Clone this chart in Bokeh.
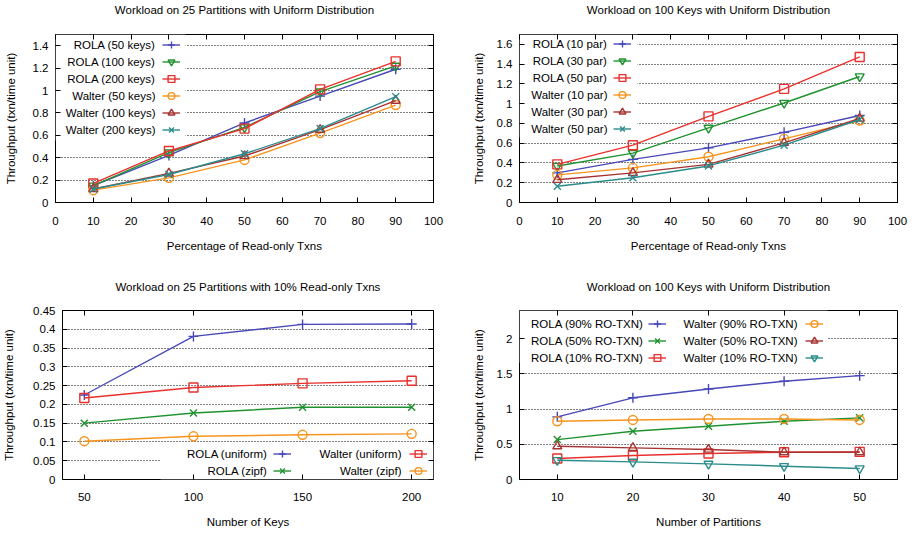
from bokeh.plotting import figure
from bokeh.layouts import column, row
from bokeh.models import (Range1d, FixedTicker, LinearAxis, Legend, LegendItem,
                          Label, BoxAnnotation)
from bokeh.embed import file_html
from bokeh.resources import INLINE

FONT = "Liberation Sans"
FS = "11.5px"

# ---------------- data ----------------
pct_x = [10, 30, 50, 70, 90]
tl_rola_50 = [0.15, 0.42, 0.71, 0.95, 1.19]
tl_rola_100 = [0.15, 0.445, 0.67, 0.99, 1.22]
tl_rola_200 = [0.17, 0.46, 0.66, 1.01, 1.26]
tl_walter_50 = [0.11, 0.22, 0.38, 0.62, 0.87]
tl_walter_100 = [0.12, 0.26, 0.415, 0.65, 0.91]
tl_walter_200 = [0.12, 0.25, 0.435, 0.66, 0.945]

tr_rola_10 = [0.30, 0.436, 0.553, 0.71, 0.88]
tr_rola_30 = [0.37, 0.50, 0.755, 1.007, 1.275]
tr_rola_50 = [0.386, 0.58, 0.872, 1.15, 1.473]
tr_walter_10 = [0.28, 0.35, 0.463, 0.644, 0.83]
tr_walter_30 = [0.23, 0.30, 0.386, 0.604, 0.85]
tr_walter_50 = [0.165, 0.25, 0.37, 0.58, 0.84]

keys_x = [50, 100, 150, 200]
bl_rola_uniform = [0.225, 0.381, 0.413, 0.414]
bl_walter_uniform = [0.217, 0.245, 0.256, 0.263]
bl_rola_zipf = [0.150, 0.177, 0.1925, 0.1925]
bl_walter_zipf = [0.102, 0.115, 0.119, 0.1215]

part_x = [10, 20, 30, 40, 50]
br_rola_90 = [0.89, 1.16, 1.286, 1.395, 1.475]
br_rola_50 = [0.567, 0.686, 0.757, 0.827, 0.875]
br_rola_10 = [0.298, 0.34, 0.369, 0.388, 0.392]
br_walter_90 = [0.827, 0.846, 0.86, 0.86, 0.846]
br_walter_50 = [0.473, 0.449, 0.426, 0.388, 0.388]
br_walter_10 = [0.274, 0.25, 0.222, 0.189, 0.156]

pct_ticks = [0, 10, 20, 30, 40, 50, 60, 70, 80, 90, 100]
pct_tick_labels = ["0", "10", "20", "30", "40", "50", "60", "70", "80", "90", "100"]
keys_ticks = [50, 100, 150, 200]
keys_tick_labels = ["50", "100", "150", "200"]
part_ticks = [10, 20, 30, 40, 50]
part_tick_labels = ["10", "20", "30", "40", "50"]
tl_yticks = [0, 0.2, 0.4, 0.6, 0.8, 1.0, 1.2, 1.4]
tl_ylabels = ["0", "0.2", "0.4", "0.6", "0.8", "1", "1.2", "1.4"]
tr_yticks = [0, 0.2, 0.4, 0.6, 0.8, 1.0, 1.2, 1.4, 1.6]
tr_ylabels = ["0", "0.2", "0.4", "0.6", "0.8", "1", "1.2", "1.4", "1.6"]
bl_yticks = [0, 0.05, 0.1, 0.15, 0.2, 0.25, 0.3, 0.35, 0.4, 0.45]
bl_ylabels = ["0", "0.05", "0.1", "0.15", "0.2", "0.25", "0.3", "0.35", "0.4", "0.45"]
br_yticks = [0, 0.5, 1.0, 1.5, 2.0]
br_ylabels = ["0", "0.5", "1", "1.5", "2"]

# ---------------- styles ----------------
BLUE = "#4848b8"
GREEN = "#1f922f"
RED = "#e8312d"
ORANGE = "#f7941d"
DARKRED = "#a83232"
TEAL = "#2b8c8c"
S_PLUS = (BLUE, "cross", 10)
S_DTRI_G = (GREEN, "inverted_triangle", 9)
S_SQ = (RED, "square", 9)
S_CIRC = (ORANGE, "circle", 9)
S_TRI = (DARKRED, "triangle", 9)
S_X_T = (TEAL, "x", 10)
S_X_G = (GREEN, "x", 10)
S_DTRI_T = (TEAL, "inverted_triangle", 9)

ROW = 17


def make_fig(title, xr, xticks, xlabels, yr, yticks, ylabels, xtitle,
             W, H, left, right, top, bottom, title_gap, ylab_standoff,
             xlab_standoff=14, xtitle_standoff=12):
    p = figure(width=W, height=H, x_range=Range1d(*xr), y_range=Range1d(*yr),
               output_backend="svg", toolbar_location=None,
               min_border_left=left, min_border_right=right,
               min_border_top=top, min_border_bottom=bottom)
    fh = H - top - bottom
    p.outline_line_color = "black"
    p.outline_line_width = 1
    p.outline_line_alpha = 1
    p.xgrid.visible = False
    p.ygrid.grid_line_color = "black"
    p.ygrid.grid_line_dash = "1 2"
    p.ygrid.grid_line_width = 1
    for ax in (p.xaxis[0], p.yaxis[0]):
        ax.axis_line_color = None
        ax.major_tick_in = 5
        ax.major_tick_out = 0
        ax.major_tick_line_color = "black"
        ax.minor_tick_line_color = None
        ax.major_label_text_font = FONT
        ax.major_label_text_font_size = FS
        ax.major_label_text_color = "black"
        ax.axis_label_text_font = FONT
        ax.axis_label_text_font_size = FS
        ax.axis_label_text_font_style = "normal"
        ax.axis_label_text_color = "black"
    p.xaxis[0].ticker = FixedTicker(ticks=xticks)
    p.xaxis[0].major_label_overrides = dict(zip(xticks, xlabels))
    p.xaxis[0].major_label_standoff = xlab_standoff
    p.xaxis[0].axis_label = xtitle
    p.xaxis[0].axis_label_standoff = xtitle_standoff
    p.yaxis[0].ticker = FixedTicker(ticks=yticks)
    p.yaxis[0].major_label_overrides = dict(zip(yticks, ylabels))
    p.yaxis[0].major_label_standoff = 7
    p.yaxis[0].axis_label = "Throughput (txn/time unit)"
    p.yaxis[0].axis_label_standoff = ylab_standoff
    # mirrored ticks on top (carrying the chart title) and right
    for loc, tk in (("above", xticks), ("right", yticks)):
        ax = LinearAxis(ticker=FixedTicker(ticks=tk))
        ax.axis_line_color = None
        ax.major_tick_in = 5
        ax.major_tick_out = 0
        ax.major_tick_line_color = "black"
        ax.minor_tick_line_color = None
        ax.major_label_text_font_size = "0px"
        ax.major_label_text_color = None
        ax.major_label_standoff = 0
        if loc == "above":
            ax.axis_label = title
            ax.axis_label_standoff = title_gap
            ax.axis_label_text_font = FONT
            ax.axis_label_text_font_size = FS
            ax.axis_label_text_font_style = "normal"
            ax.axis_label_text_color = "black"
        p.add_layout(ax, loc)
    return p, fh


def add_series(p, xs, ys, style):
    color, marker, size = style
    r1 = p.line(xs, ys, line_color=color, line_width=1.4)
    r2 = p.scatter(xs, ys, marker=marker, size=size, line_color=color,
                   fill_alpha=0, line_width=1.4)
    return [r1, r2]


def add_key(p, frame_h, entries, sample_left, text_right, first_center):
    """gnuplot-like key column: right-aligned text followed by a sample."""
    n = len(entries)
    items = [LegendItem(label=" ", renderers=rs) for (_, rs) in entries]
    vy = frame_h - (first_center - ROW / 2) - n * ROW
    leg = Legend(items=items, location=(sample_left, vy), glyph_width=18,
                 glyph_height=ROW, label_height=ROW, spacing=0, padding=0,
                 margin=0, border_line_color=None, background_fill_alpha=0,
                 label_text_font_size="0px", label_text_color=None,
                 label_width=1, label_standoff=0)
    p.add_layout(leg)
    for i, (text, _) in enumerate(entries):
        p.add_layout(Label(x=text_right, y=frame_h - (first_center + ROW * i),
                           x_units="screen", y_units="screen", text=text,
                           text_align="right", text_baseline="middle",
                           text_font=FONT, text_font_size=FS,
                           text_color="black"))


def add_mask(p, left, right, bottom, top):
    p.add_layout(BoxAnnotation(left=left, right=right, bottom=bottom, top=top,
                               left_units="screen", right_units="screen",
                               bottom_units="screen", top_units="screen",
                               fill_color="white", fill_alpha=1,
                               line_color=None, level="underlay"))


# ---------------- top-left ----------------
tl, tl_h = make_fig("Workload on 25 Partitions with Uniform Distribution",
                    (0, 100), pct_ticks, pct_tick_labels, (0, 1.5), tl_yticks, tl_ylabels,
                    "Percentage of Read-only Txns",
                    457, 262, 55, 24, 34, 60, 19, 13)
tl_entries = [
    ("ROLA (50 keys)", add_series(tl, pct_x, tl_rola_50, S_PLUS)),
    ("ROLA (100 keys)", add_series(tl, pct_x, tl_rola_100, S_DTRI_G)),
    ("ROLA (200 keys)", add_series(tl, pct_x, tl_rola_200, S_SQ)),
    ("Walter (50 keys)", add_series(tl, pct_x, tl_walter_50, S_CIRC)),
    ("Walter (100 keys)", add_series(tl, pct_x, tl_walter_100, S_TRI)),
    ("Walter (200 keys)", add_series(tl, pct_x, tl_walter_200, S_X_T)),
]
add_mask(tl, 0, 130, 62, tl_h)
add_key(tl, tl_h, tl_entries, 107, 100, 10)

# ---------------- top-right ----------------
tr, tr_h = make_fig("Workload on 100 Keys with Uniform Distribution",
                    (0, 100), pct_ticks, pct_tick_labels, (0, 1.7), tr_yticks, tr_ylabels,
                    "Percentage of Read-only Txns",
                    455, 262, 62, 15, 34, 60, 19, 9)
tr_entries = [
    ("ROLA (10 par)", add_series(tr, pct_x, tr_rola_10, S_PLUS)),
    ("ROLA (30 par)", add_series(tr, pct_x, tr_rola_30, S_DTRI_G)),
    ("ROLA (50 par)", add_series(tr, pct_x, tr_rola_50, S_SQ)),
    ("Walter (10 par)", add_series(tr, pct_x, tr_walter_10, S_CIRC)),
    ("Walter (30 par)", add_series(tr, pct_x, tr_walter_30, S_TRI)),
    ("Walter (50 par)", add_series(tr, pct_x, tr_walter_50, S_X_T)),
]
add_mask(tr, 0, 118, 65, tr_h)
add_key(tr, tr_h, tr_entries, 94, 88, 9)

# ---------------- bottom-left ----------------
bl, bl_h = make_fig("Workload on 25 Partitions with 10% Read-only Txns",
                    (40, 210), keys_ticks, keys_tick_labels, (0, 0.45), bl_yticks, bl_ylabels,
                    "Number of Keys",
                    457, 271, 62, 24, 48, 54, 18, 15, 13, 12)
bl_c1 = [
    ("ROLA (uniform)", add_series(bl, keys_x, bl_rola_uniform, S_PLUS)),
    ("ROLA (zipf)", add_series(bl, keys_x, bl_rola_zipf, S_X_G)),
]
bl_c2 = [
    ("Walter (uniform)", add_series(bl, keys_x, bl_walter_uniform, S_SQ)),
    ("Walter (zipf)", add_series(bl, keys_x, bl_walter_zipf, S_CIRC)),
]
add_mask(bl, 98, 371, 0, 35)
add_key(bl, bl_h, bl_c1, 211, 205, 143)
add_key(bl, bl_h, bl_c2, 347, 339, 143)

# ---------------- bottom-right ----------------
br, br_h = make_fig("Workload on 100 Keys with Uniform Distribution",
                    (5, 55), part_ticks, part_tick_labels, (0, 2.4), br_yticks, br_ylabels,
                    "Number of Partitions",
                    455, 271, 62, 15, 48, 54, 18, 9, 13, 12)
br_c1 = [
    ("ROLA (90% RO-TXN)", add_series(br, part_x, br_rola_90, S_PLUS)),
    ("ROLA (50% RO-TXN)", add_series(br, part_x, br_rola_50, S_X_G)),
    ("ROLA (10% RO-TXN)", add_series(br, part_x, br_rola_10, S_SQ)),
]
br_c2 = [
    ("Walter (90% RO-TXN)", add_series(br, part_x, br_walter_90, S_CIRC)),
    ("Walter (50% RO-TXN)", add_series(br, part_x, br_walter_50, S_TRI)),
    ("Walter (10% RO-TXN)", add_series(br, part_x, br_walter_10, S_DTRI_T)),
]
add_mask(br, 0, 308, 117, br_h)
add_key(br, br_h, br_c1, 129, 124, 13)
add_key(br, br_h, br_c2, 286, 278, 13)

layout = column(row(tl, tr), row(bl, br))

with open("out.html", "w") as f:
    f.write(file_html(layout, INLINE))
